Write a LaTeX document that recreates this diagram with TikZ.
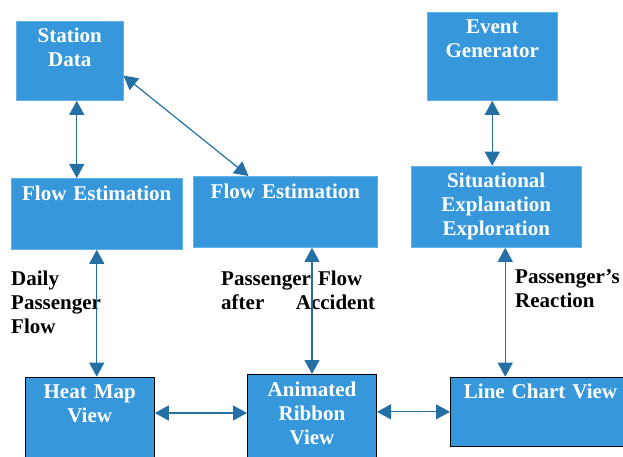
\documentclass[tikz,border=0pt]{standalone}
\usepackage{fontspec}
\setmainfont{Liberation Serif}
\usetikzlibrary{calc,positioning,arrows.meta}
\definecolor{boxblue}{RGB}{54,152,219}
\definecolor{boxedge}{RGB}{98,178,232}
\definecolor{linkblue}{RGB}{36,112,165}
\tikzset{%
  block/.style={rectangle, fill=boxblue, draw=boxedge, line width=0.8pt,
    inner sep=0pt, anchor=north west},% upper boxes
  view/.style={block, draw=black, line width=1pt},% view boxes at the bottom
  blocktext/.style={inner sep=0pt, align=center, text=white,
    font=\fontsize{21}{24}\selectfont\bfseries},
  flowtext/.style={inner sep=0pt, align=left, anchor=north west,
    font=\fontsize{21}{24}\selectfont\bfseries},% labels along the arrows
  link/.style={draw=linkblue, line width=1.2pt,
    {Triangle[length=14pt,width=15pt]}-{Triangle[length=14pt,width=15pt]}}
}
\newcommand*{\blockbox}[7]{
  \node[#1, minimum width=#5pt, minimum height=#6pt] (#2) at (#3,#4) {};
  \node[blocktext, text width=#5pt, below=7.5pt of #2.north] (#2-t) {#7};
}

\begin{document}
\begin{tikzpicture}[x=1pt,y=-1pt]
\clip (0,0) rectangle (623,457);

\blockbox{block}{sd}{16}{20.7}{106.7}{79.3}{Station\\Data}
\blockbox{block}{fe1}{10.7}{178}{171.3}{71}{Flow Estimation}
\blockbox{block}{fe2}{193}{176}{184}{71}{Flow Estimation}
\blockbox{block}{eg}{426.7}{11.7}{130.3}{88.3}{Event\\Generator}
\blockbox{block}{see}{411}{165.7}{169.7}{81.3}{Situational\\Explanation\\Exploration}
\blockbox{view}{hm}{24.6}{376.7}{129.2}{95}{Heat Map\\View}
\blockbox{view}{arv}{247}{374}{129}{97}{Animated\\Ribbon\\View}
\blockbox{view}{lcv}{450}{376.7}{180}{69.3}{Line Chart View}

\node[flowtext] (daily) at (11,271) {Daily\\Passenger\\Flow};
\node[flowtext, text width=154pt] (after) at (221,271) {Passenger Flow\\after\hfill Accident};
\node[flowtext] (react) at (515,269) {Passenger's\\Reaction};

\draw[link] ([xshift=7pt]sd.south) -- ([xshift=7pt]sd.south |- fe1.north);
\draw[link] ($(sd.north east)!0.685!(sd.south east)$) -- ($(fe2.north west)!0.3!(fe2.north east)$);
\draw[link] (eg.south) -- (eg.south |- see.north);

\draw[link] (fe1.south) -- (fe1.south |- hm.north);
\draw[link] (arv.north |- fe2.south) -- (arv.north);
\draw[link] ([xshift=9pt]see.south) -- ([xshift=9pt]see.south |- lcv.north);

\draw[link] ([yshift=11.7pt]hm.east) -- ([yshift=11.7pt]hm.east -| arv.west);
\draw[link] (arv.east |- lcv.west) -- (lcv.west);

\end{tikzpicture}
\end{document}
